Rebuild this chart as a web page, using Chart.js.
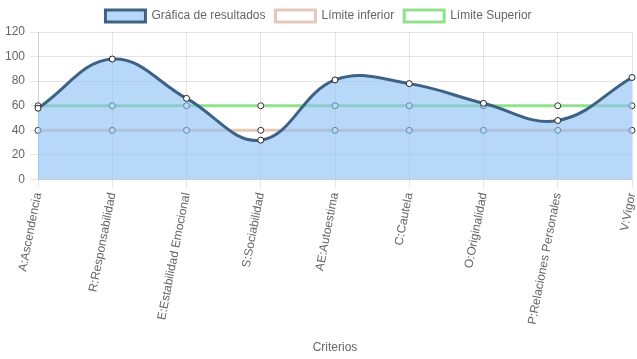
<!DOCTYPE html>
<html>
<head>
<meta charset="utf-8">
<script src="https://cdn.jsdelivr.net/npm/chart.js@4.4.0/dist/chart.umd.min.js"></script>
<style>
    html, body { margin: 0; padding: 0; background: #fff; }
    #wrap { width: 637px; height: 359px; }
</style>
</head>
<body>
<div id="wrap"><canvas id="chartCriterios"></canvas></div>
<script>
// Datos
const criterios = [
    'A:Ascendencia', 'R:Responsabilidad', 'E:Estabilidad Emocional', 'S:Sociabilidad',
    'AE:Autoestima', 'C:Cautela', 'O:Originalidad', 'P:Relaciones Personales', 'V:Vigor'
];
const resultados = [58, 98, 66, 32, 81, 78, 62, 48, 83];
const limiteInferior = [40, 40, 40, 40, 40, 40, 40, 40, 40];
const limiteSuperior = [60, 60, 60, 60, 60, 60, 60, 60, 60];
const yTicks = { min: 0, max: 120, step: 20 };

Chart.defaults.font.family = "'Liberation Sans', Arial, sans-serif";
Chart.defaults.font.size = 12;
Chart.defaults.color = '#666';

const ctx = document.getElementById('chartCriterios');

new Chart(ctx, {
    type: 'line',
    data: {
        labels: criterios,
        datasets: [
            {
                label: 'Gráfica de resultados',
                data: resultados,
                fill: 'origin',
                backgroundColor: 'rgba(137, 190, 245, 0.6)',
                borderColor: 'rgb(62, 98, 132)',
                borderWidth: 3,
                tension: 0.4,
                pointRadius: 3,
                pointBorderWidth: 1,
                pointBackgroundColor: '#fff',
                pointBorderColor: '#222'
            },
            {
                label: 'Límite inferior',
                data: limiteInferior,
                fill: false,
                backgroundColor: '#fff',
                borderColor: 'rgb(230, 200, 186)',
                borderWidth: 3,
                pointRadius: 3,
                pointBorderWidth: 1,
                pointBackgroundColor: '#fff',
                pointBorderColor: '#333'
            },
            {
                label: 'Límite Superior',
                data: limiteSuperior,
                fill: false,
                backgroundColor: '#fff',
                borderColor: 'rgb(144, 226, 140)',
                borderWidth: 3,
                pointRadius: 3,
                pointBorderWidth: 1,
                pointBackgroundColor: '#fff',
                pointBorderColor: '#333'
            }
        ]
    },
    options: {
        responsive: true,
        maintainAspectRatio: false,
        animation: false,
        plugins: {
            legend: {
                display: true,
                position: 'top',
                labels: {
                    boxWidth: 40,
                    font: { size: 12 }
                }
            },
            tooltip: { enabled: false }
        },
        scales: {
            x: {
                grid: { color: 'rgba(0, 0, 0, 0.1)' },
                ticks: {
                    minRotation: 79,
                    maxRotation: 79,
                    padding: 4,
                    font: { size: 12 }
                },
                title: {
                    display: true,
                    text: 'Criterios',
                    padding: { top: 14, bottom: 4 },
                    font: { size: 12 }
                },
                // el último rótulo casi no necesita margen a la derecha
                afterFit(scale) {
                    scale.paddingRight = 3;
                }
            },
            y: {
                min: yTicks.min,
                max: yTicks.max,
                grid: { color: 'rgba(0, 0, 0, 0.1)' },
                ticks: {
                    stepSize: yTicks.step,
                    padding: 5,
                    font: { size: 12 }
                }
            }
        }
    }
});
</script>
</body>
</html>
